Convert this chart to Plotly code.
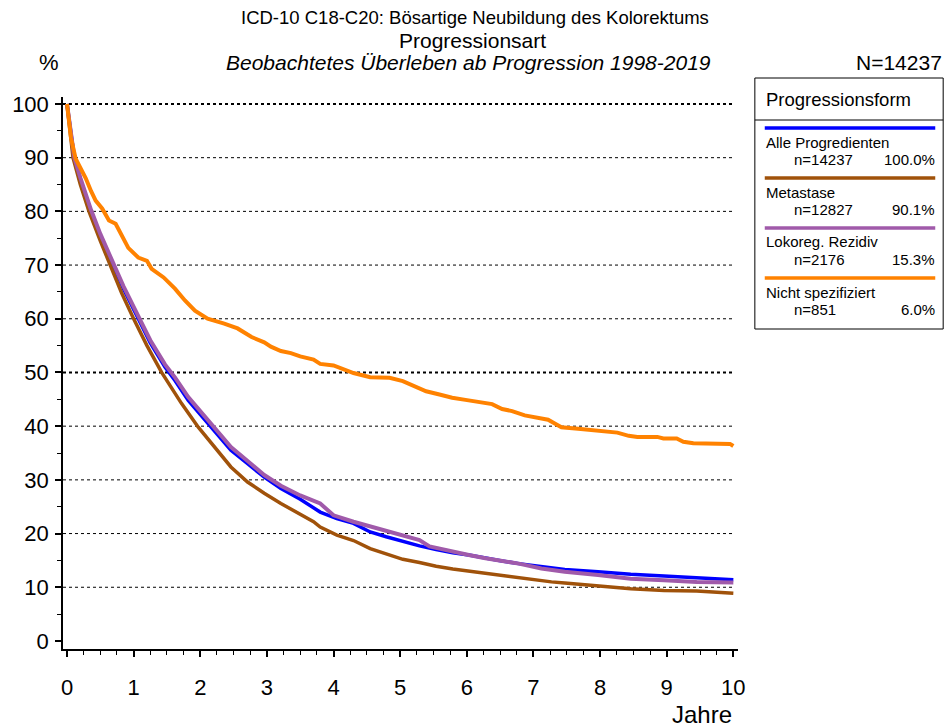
import plotly.graph_objects as go

# ---------------- data ----------------
series_names = ["Alle Progredienten", "Metastase", "Lokoreg. Rezidiv", "Nicht spezifiziert"]
series_n = ["n=14237", "n=12827", "n=2176", "n=851"]
series_pct = ["100.0%", "90.1%", "15.3%", "6.0%"]
series_colors = ["#0000FF", "#A0520A", "#A05AAA", "#FF8200"]

t_alle = [0, 0.05, 0.11, 0.2, 0.36, 0.5, 0.69, 0.85, 1.07, 1.25, 1.47, 1.62, 1.82, 2.07, 2.22,
          2.46, 2.71, 2.96, 3.21, 3.5, 3.8, 4.05, 4.3, 4.55, 4.79, 5.04, 5.29, 5.54, 5.79, 6.03,
          6.28, 6.53, 6.78, 7.02, 7.27, 7.47, 7.97, 8.46, 8.96, 9.45, 10.0]
v_alle = [100, 95, 90, 86, 80, 75.5, 70, 65.5, 60, 55.5, 51.0, 48.5, 44.8, 41.1, 38.9,
          35.5, 33.0, 30.5, 28.4, 26.4, 24.0, 22.8, 21.9, 20.3, 19.4, 18.5, 17.7, 17.0, 16.4, 16.0,
          15.4, 14.9, 14.4, 14.0, 13.5, 13.3, 12.9, 12.4, 12.1, 11.8, 11.4]

t_meta = [0, 0.05, 0.09, 0.2, 0.33, 0.5, 0.65, 0.82, 1.0, 1.2, 1.42, 1.72, 1.97, 2.22, 2.46,
          2.71, 2.96, 3.21, 3.46, 3.7, 3.8, 4.05, 4.3, 4.55, 4.79, 5.04, 5.29, 5.54, 5.79, 6.03,
          6.28, 6.53, 6.78, 7.02, 7.27, 7.47, 7.97, 8.46, 8.96, 9.45, 10.0]
v_meta = [100, 95, 90, 85, 80, 74.5, 70, 64.8, 60, 55, 50, 44.2, 39.8, 36.1, 32.4,
          29.6, 27.5, 25.6, 23.9, 22.2, 21.2, 19.7, 18.7, 17.2, 16.2, 15.2, 14.6, 13.9, 13.4, 13.0,
          12.5, 12.1, 11.8, 11.4, 11.0, 10.8, 10.3, 9.7, 9.4, 9.3, 8.9]

t_lokal = [0, 0.05, 0.11, 0.2, 0.36, 0.5, 0.69, 0.85, 1.07, 1.25, 1.47, 1.62, 1.82, 2.07, 2.22,
           2.46, 2.71, 2.96, 3.21, 3.5, 3.8, 4.0, 4.3, 4.55, 4.94, 5.29, 5.44, 5.79, 6.03,
           6.28, 6.78, 7.12, 7.27, 7.47, 7.97, 8.46, 8.96, 9.45, 10.0]
v_lokal = [100, 95, 90, 86.3, 80.3, 75.8, 70.4, 66, 60.5, 56, 51.5, 49.1, 45.4, 41.8, 39.5,
           36.1, 33.5, 30.9, 28.9, 27.1, 25.6, 23.4, 22.2, 21.3, 19.9, 18.8, 17.6, 16.6, 16.0,
           15.4, 14.4, 13.5, 13.2, 12.9, 12.3, 11.6, 11.3, 11.0, 10.9]

t_nicht = [0, 0.06, 0.13, 0.21, 0.28, 0.36, 0.43, 0.53, 0.63, 0.73, 0.8, 0.92, 1.07, 1.2, 1.27,
           1.45, 1.62, 1.77, 1.92, 2.11, 2.36, 2.56, 2.77, 2.96, 3.06, 3.21, 3.36, 3.5, 3.7, 3.8,
           4.0, 4.15, 4.3, 4.55, 4.84, 5.04, 5.19, 5.24, 5.39, 5.59, 5.78, 5.98, 6.18, 6.38, 6.53,
           6.68, 6.87, 7.02, 7.22, 7.32, 7.42, 7.67, 8.01, 8.26, 8.43, 8.56, 8.86, 8.95, 9.15,
           9.25, 9.4, 9.95, 10.0]
v_nicht = [100, 93.7, 89.8, 87.9, 86.2, 83.8, 82.0, 80.5, 78.3, 77.7, 76.0, 73.2, 71.4, 70.8, 69.3,
           67.7, 65.6, 63.4, 61.5, 60.0, 59.1, 58.2, 56.6, 55.6, 54.8, 54.0, 53.6, 53.0, 52.4, 51.6,
           51.3, 50.5, 49.9, 49.1, 49.0, 48.4, 47.6, 47.3, 46.5, 45.9, 45.3, 44.9, 44.5, 44.1, 43.2,
           42.8, 42.0, 41.7, 41.2, 40.5, 39.8, 39.5, 39.2, 38.8, 38.2, 38.0, 38.0, 37.7, 37.7,
           37.1, 36.8, 36.7, 36.3]

x_ticks = [0, 1, 2, 3, 4, 5, 6, 7, 8, 9, 10]
y_ticks = [0, 10, 20, 30, 40, 50, 60, 70, 80, 90, 100]
grid_thin = [10, 20, 30, 40, 60, 70, 80, 90]
grid_bold = [50, 100]

title_lines = ["ICD-10 C18-C20: Bösartige Neubildung des Kolorektums", "Progressionsart",
               "Beobachtetes Überleben ab Progression 1998-2019"]
legend_title = "Progressionsform"
n_total = "N=14237"

# ---------------- figure ----------------
W, H = 948, 728
L, R, T, B = 57, 738, 97, 649
FONT = "Liberation Sans, Arial, sans-serif"

def px(x):
    return (x - L) / (R - L)

def py(y):
    return (B - y) / (B - T)

fig = go.Figure()
xs = [t_alle, t_meta, t_lokal, t_nicht]
ys = [v_alle, v_meta, v_lokal, v_nicht]
widths = [3.5, 3.5, 4, 4]
for i in range(4):
    fig.add_trace(go.Scatter(x=xs[i], y=ys[i], mode="lines", name=series_names[i],
                             line=dict(color=series_colors[i], width=widths[i]),
                             showlegend=False, hoverinfo="skip"))

shapes = []
for g in grid_thin:
    shapes.append(dict(type="line", xref="x", yref="y", x0=-0.06, x1=10, y0=g, y1=g,
                       line=dict(color="black", width=1, dash="dot"), layer="below"))
for g in grid_bold:
    shapes.append(dict(type="line", xref="x", yref="y", x0=-0.06, x1=10, y0=g, y1=g,
                       line=dict(color="black", width=2, dash="dot"), layer="below"))

# legend box
lx0, lx1, ly0, ly1 = 755, 945, 78, 329
shapes.append(dict(type="rect", xref="paper", yref="paper", x0=px(lx0), x1=px(lx1),
                   y0=py(ly1), y1=py(ly0), line=dict(color="black", width=1)))
shapes.append(dict(type="line", xref="paper", yref="paper", x0=px(lx0), x1=px(lx1),
                   y0=py(120), y1=py(120), line=dict(color="black", width=1)))

annotations = []
for i in range(4):
    yl = 128 + 50 * i
    shapes.append(dict(type="line", xref="paper", yref="paper", x0=px(765), x1=px(937),
                       y0=py(yl), y1=py(yl), line=dict(color=series_colors[i], width=3.5)))
    annotations.append(dict(x=px(764), y=py(yl + 14), xref="paper", yref="paper",
                            text=series_names[i], showarrow=False, xanchor="left",
                            yanchor="middle", font=dict(size=15, family=FONT, color="black")))
    annotations.append(dict(x=px(792), y=py(yl + 31), xref="paper", yref="paper",
                            text=series_n[i], showarrow=False, xanchor="left",
                            yanchor="middle", font=dict(size=15, family=FONT, color="black")))
    annotations.append(dict(x=px(939), y=py(yl + 31), xref="paper", yref="paper",
                            text=series_pct[i], showarrow=False, xanchor="right",
                            yanchor="middle", font=dict(size=15, family=FONT, color="black")))

annotations.append(dict(x=px(764), y=py(99), xref="paper", yref="paper", text=legend_title,
                        showarrow=False, xanchor="left", yanchor="middle",
                        font=dict(size=18.5, family=FONT, color="black")))

# titles
annotations.append(dict(x=px(473), y=py(18), xref="paper", yref="paper", text=title_lines[0],
                        showarrow=False, xanchor="center", yanchor="middle",
                        font=dict(size=18.5, family=FONT, color="black")))
annotations.append(dict(x=px(470), y=py(40), xref="paper", yref="paper", text=title_lines[1],
                        showarrow=False, xanchor="center", yanchor="middle",
                        font=dict(size=21, family=FONT, color="black")))
annotations.append(dict(x=px(466), y=py(62), xref="paper", yref="paper",
                        text="<i>" + title_lines[2] + "</i>",
                        showarrow=False, xanchor="center", yanchor="middle",
                        font=dict(size=21, family=FONT, color="black")))
annotations.append(dict(x=px(43), y=py(63), xref="paper", yref="paper", text="%",
                        showarrow=False, xanchor="center", yanchor="middle",
                        font=dict(size=22, family=FONT, color="black")))
annotations.append(dict(x=px(946), y=py(62), xref="paper", yref="paper", text=n_total,
                        showarrow=False, xanchor="right", yanchor="middle",
                        font=dict(size=21, family=FONT, color="black")))
annotations.append(dict(x=px(734), y=py(714), xref="paper", yref="paper", text="Jahre",
                        showarrow=False, xanchor="right", yanchor="middle",
                        font=dict(size=24, family=FONT, color="black")))

fig.update_layout(
    width=W, height=H,
    margin=dict(l=L, r=W - R, t=T, b=H - B, pad=0),
    paper_bgcolor="white", plot_bgcolor="white",
    font=dict(family=FONT, color="black"),
    shapes=shapes, annotations=annotations,
    xaxis=dict(range=[-0.06, 10.07], tickvals=x_ticks, ticktext=[str(v) for v in x_ticks],
               showgrid=False, zeroline=False, showline=True, linecolor="black", linewidth=1.5,
               ticks="outside", ticklen=6, tickwidth=1.5, tickcolor="black",
               tickfont=dict(size=22, family=FONT), ticklabelstandoff=12,
               minor=dict(dtick=0.25, tick0=0, ticks="outside", ticklen=4, tickcolor="black",
                          tickwidth=1.2, showgrid=False)),
    yaxis=dict(range=[-1.5, 101.3], tickvals=y_ticks, ticktext=[str(v) for v in y_ticks],
               showgrid=False, zeroline=False, showline=True, linecolor="black", linewidth=1.5,
               ticks="outside", ticklen=6, tickwidth=1.5, tickcolor="black",
               tickfont=dict(size=22, family=FONT), ticklabelstandoff=2,
               minor=dict(dtick=5, tick0=0, ticks="outside", ticklen=4, tickcolor="black",
                          tickwidth=1.2, showgrid=False)),
)

fig.write_html("out.html", config={"displayModeBar": False},
               post_script="document.body.style.margin='0px';document.body.style.padding='0px';")
